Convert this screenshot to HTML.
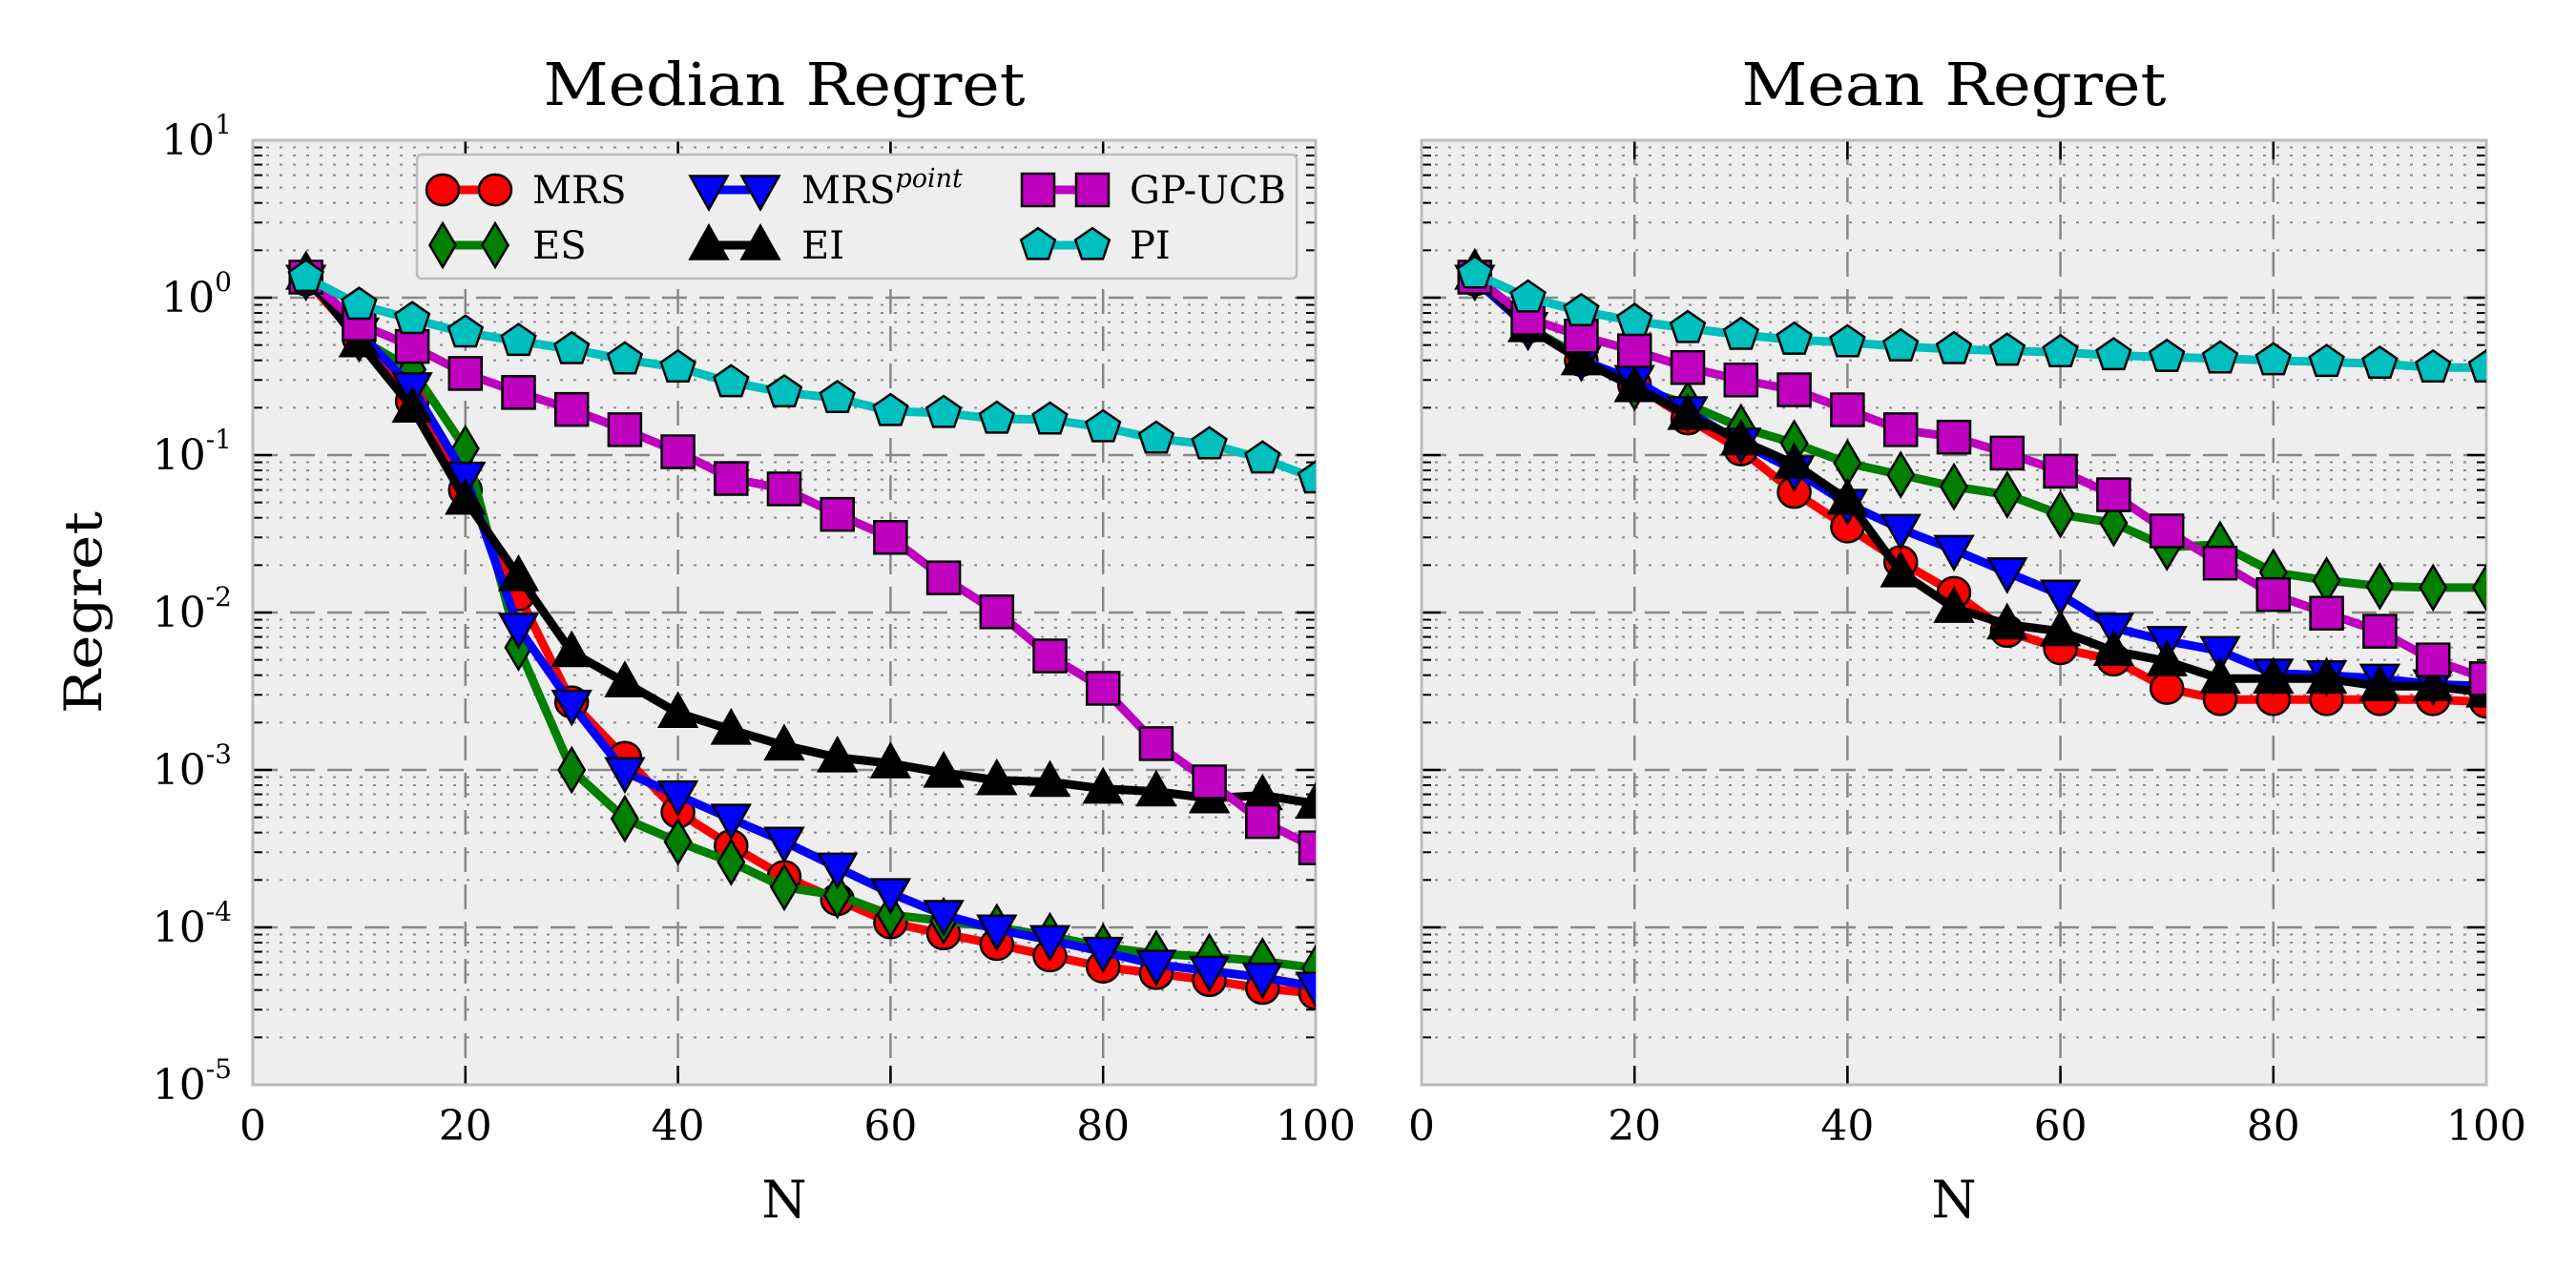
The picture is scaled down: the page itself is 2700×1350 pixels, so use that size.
<!DOCTYPE html>
<html><head><meta charset="utf-8">
<style>
html,body{margin:0;padding:0;background:#fff;}
svg{display:block;}
text{font-family:"DejaVu Serif","Liberation Serif",serif;}
</style></head>
<body>
<svg id="fig" width="2700" height="1350" viewBox="0 0 2700 1350" xmlns="http://www.w3.org/2000/svg"></svg>
<script>
const xValues = [5,10,15,20,25,30,35,40,45,50,55,60,65,70,75,80,85,90,95,100];
const xTicks = [0,20,40,60,80,100];
const yTickExps = [1,0,-1,-2,-3,-4,-5];
const seriesNames = ["MRS","ES","MRSpoint","EI","GP-UCB","PI"];
// Median regret
const medMRS = [1.3,0.55,0.22,0.06,0.013,0.0027,0.0012,5.4e-4,3.3e-4,2.1e-4,1.5e-4,1.07e-4,9.1e-5,7.8e-5,6.6e-5,5.6e-5,5.1e-5,4.6e-5,4.1e-5,3.8e-5];
const medES = [1.4,0.55,0.35,0.11,0.006,0.001,4.9e-4,3.5e-4,2.6e-4,1.8e-4,1.6e-4,1.2e-4,1.1e-4,1.0e-4,8.8e-5,7.5e-5,6.8e-5,6.5e-5,6.1e-5,5.5e-5];
const medMRSpoint = [1.3,0.6,0.27,0.073,0.008,0.0026,9.7e-4,6.9e-4,4.9e-4,3.5e-4,2.4e-4,1.65e-4,1.2e-4,9.7e-5,8.3e-5,7e-5,5.8e-5,5.3e-5,4.8e-5,4.2e-5];
const medEI = [1.4,0.52,0.2,0.052,0.017,0.0056,0.0036,0.0023,0.0018,0.00143,0.0012,0.0011,0.00096,8.6e-4,8.4e-4,7.6e-4,7.3e-4,6.6e-4,6.9e-4,6.1e-4];
const medGPUCB = [1.35,0.68,0.49,0.33,0.25,0.195,0.145,0.105,0.071,0.061,0.042,0.03,0.0166,0.0101,0.0053,0.0033,0.00147,8.4e-4,4.7e-4,3.2e-4];
const medPI = [1.35,0.9,0.73,0.6,0.53,0.47,0.405,0.36,0.29,0.25,0.23,0.19,0.185,0.17,0.168,0.15,0.127,0.117,0.095,0.071];
// Mean regret
const meanMRS = [1.3,0.65,0.4,0.28,0.17,0.108,0.058,0.035,0.021,0.0134,0.0076,0.0059,0.005,0.0033,0.0028,0.0028,0.0028,0.0028,0.0028,0.0027];
const meanES = [1.45,0.65,0.42,0.27,0.21,0.15,0.119,0.089,0.075,0.063,0.056,0.042,0.037,0.026,0.027,0.018,0.016,0.0147,0.0144,0.0144];
const meanMRSpoint = [1.3,0.65,0.4,0.3,0.19,0.12,0.08,0.049,0.034,0.025,0.018,0.013,0.008,0.0066,0.0057,0.0041,0.004,0.0038,0.0035,0.0034];
const meanEI = [1.4,0.65,0.4,0.27,0.18,0.124,0.088,0.052,0.018,0.0107,0.0084,0.0076,0.0057,0.0049,0.0038,0.0038,0.0038,0.0034,0.0034,0.0031];
const meanGPUCB = [1.35,0.74,0.57,0.46,0.36,0.30,0.26,0.194,0.145,0.13,0.103,0.079,0.056,0.033,0.0206,0.013,0.0099,0.0076,0.005,0.0038];
const meanPI = [1.42,1.0,0.82,0.71,0.64,0.58,0.54,0.52,0.49,0.47,0.46,0.45,0.43,0.42,0.41,0.40,0.39,0.38,0.36,0.36];

const NS="http://www.w3.org/2000/svg";
const svg=document.getElementById('fig');
function mk(tag,attrs,parent){const e=document.createElementNS(NS,tag);for(const k in attrs)e.setAttribute(k,attrs[k]);(parent||svg).appendChild(e);return e;}

const styles={
 "MRS":{color:"#ff0000",marker:"circle"},
 "ES":{color:"#007f00",marker:"diamond"},
 "MRSpoint":{color:"#0000ff",marker:"tridown"},
 "EI":{color:"#000000",marker:"triup"},
 "GP-UCB":{color:"#bf00bf",marker:"square"},
 "PI":{color:"#00bfbf",marker:"pentagon"}
};
function markerShape(g,type,cx,cy,fill){
  const s=17;let e;
  if(type==="circle") e=mk('ellipse',{cx:cx,cy:cy,rx:s,ry:s*0.95},g);
  else if(type==="square") e=mk('rect',{x:cx-s,y:cy-s,width:2*s,height:2*s},g);
  else if(type==="diamond") e=mk('polygon',{points:`${cx},${cy-s*1.35} ${cx+s*0.8},${cy} ${cx},${cy+s*1.35} ${cx-s*0.8},${cy}`},g);
  else if(type==="triup") e=mk('polygon',{points:`${cx},${cy-s*1.2} ${cx+s*1.15},${cy+s*0.85} ${cx-s*1.15},${cy+s*0.85}`},g);
  else if(type==="tridown") e=mk('polygon',{points:`${cx},${cy+s*1.2} ${cx+s*1.15},${cy-s*0.85} ${cx-s*1.15},${cy-s*0.85}`},g);
  else { let p=[];for(let i=0;i<5;i++){const a=-Math.PI/2+i*2*Math.PI/5;p.push((cx+s*1.1*Math.cos(a)).toFixed(1)+','+(cy+s*1.05*Math.sin(a)).toFixed(1));} e=mk('polygon',{points:p.join(' ')},g);}
  e.setAttribute('fill',fill);e.setAttribute('stroke','#000');e.setAttribute('stroke-width','2.5');
  return e;
}

function drawPanel(px0,px1,title,titleW,data,showY,pname){
  const py0=147,py1=1137;
  const xs=v=>px0+(v/100)*(px1-px0);
  const ys=v=>py0+(1-Math.log10(v))/6*(py1-py0);
  const g=mk('g',{});
  
  
  mk('rect',{x:px0,y:py0,width:px1-px0,height:py1-py0,fill:'#eeeeee'},g);
  for(let e=-5;e<1;e++){for(let m=2;m<=9;m++){const y=ys(m*Math.pow(10,e));
    mk('line',{x1:px0,x2:px1,y1:y,y2:y,stroke:'#8a8a8a','stroke-width':2,'stroke-dasharray':'3,11'},g);
    mk('line',{x1:px0,x2:px0+10,y1:y,y2:y,stroke:'#000','stroke-width':2},g);
    mk('line',{x1:px1-10,x2:px1,y1:y,y2:y,stroke:'#000','stroke-width':2},g);}}
  yTickExps.forEach(e=>{const y=ys(Math.pow(10,e));
    const gl=mk('line',{x1:px0,x2:px1,y1:y,y2:y,stroke:'#888','stroke-width':2.5,'stroke-dasharray':'26,13'},g);
    
    
    mk('line',{x1:px0,x2:px0+20,y1:y,y2:y,stroke:'#000','stroke-width':2.5},g);
    mk('line',{x1:px1-20,x2:px1,y1:y,y2:y,stroke:'#000','stroke-width':2.5},g);
    if(showY){const t=mk('text',{x:px0-22,y:y+15,'font-size':44,'text-anchor':'end',fill:'#000'},g);
      
      
      t.textContent='10';const ts=mk('tspan',{dy:-22,'font-size':28},t);ts.textContent=String(e);}
  });
  xTicks.forEach(v=>{const x=xs(v);
    if(v>0&&v<100){const gl=mk('line',{x1:x,x2:x,y1:py0,y2:py1,stroke:'#888','stroke-width':2.5,'stroke-dasharray':'26,13'},g);
      
      }
    mk('line',{x1:x,x2:x,y1:py1-20,y2:py1,stroke:'#000','stroke-width':2.5},g);
    mk('line',{x1:x,x2:x,y1:py0,y2:py0+20,stroke:'#000','stroke-width':2.5},g);
    const t=mk('text',{x:x,y:py1+58,'font-size':44,'text-anchor':'middle',fill:'#000'},g);
    
    
    t.textContent=String(v);
  });
  mk('rect',{x:px0,y:py0,width:px1-px0,height:py1-py0,fill:'none',stroke:'#bcbcbc','stroke-width':3},g);
  const clip='clip-'+pname;
  const cp=mk('clipPath',{id:clip},g);mk('rect',{x:px0,y:py0-30,width:px1-px0,height:py1-py0+60},cp);
  const sg=mk('g',{'clip-path':`url(#${clip})`},g);
  seriesNames.forEach((name,i)=>{const vals=data[i];const st=styles[name];
    const sgi=mk('g',{},sg);
    
    
    const pts=vals.map((v,j)=>xs(xValues[j]).toFixed(1)+','+ys(v).toFixed(1)).join(' ');
    mk('polyline',{points:pts,fill:'none',stroke:st.color,'stroke-width':9,'stroke-linejoin':'round'},sgi);
    vals.forEach((v,j)=>{const m=markerShape(sgi,st.marker,xs(xValues[j]),ys(v),st.color);
      
      });
  });
  const tt=mk('text',{x:(px0+px1)/2,y:110,'font-size':62,'text-anchor':'middle',textLength:titleW,lengthAdjust:'spacingAndGlyphs',fill:'#000'});
  
  
  tt.textContent=title;
  const xl=mk('text',{x:(px0+px1)/2,y:1276,'font-size':54,'text-anchor':'middle',fill:'#000'});
  
  
  xl.textContent='N';
}
drawPanel(265,1379,'Median Regret',505,[medMRS,medES,medMRSpoint,medEI,medGPUCB,medPI],true,'median');
drawPanel(1490,2606,'Mean Regret',445,[meanMRS,meanES,meanMRSpoint,meanEI,meanGPUCB,meanPI],false,'mean');

const yl=mk('text',{x:0,y:0,'font-size':54,'text-anchor':'middle',transform:'translate(106,642) rotate(-90)',textLength:212,lengthAdjust:'spacingAndGlyphs',fill:'#000'});


yl.textContent='Regret';

const lg=mk('g',{});


mk('rect',{x:437,y:162,width:922,height:130,rx:5,fill:'#eeeeee',stroke:'#bcbcbc','stroke-width':2.5},lg);
const legCols=[[464,519,558],[743,797,840],[1088,1145,1184]];
const legRows=[199,257];
const legOrder=[["MRS",0,0],["ES",0,1],["MRSpoint",1,0],["EI",1,1],["GP-UCB",2,0],["PI",2,1]];
legOrder.forEach(([name,c,r])=>{const st=styles[name];const [a,b,tx]=legCols[c];const y=legRows[r];
  const eg=mk('g',{},lg);
  
  
  mk('line',{x1:a,x2:b,y1:y,y2:y,stroke:st.color,'stroke-width':9},eg);
  markerShape(eg,st.marker,a,y,st.color);markerShape(eg,st.marker,b,y,st.color);
  const t=mk('text',{x:tx,y:y+14,'font-size':40,fill:'#000'},eg);
  if(name==="MRSpoint"){t.textContent='MRS';const s=mk('tspan',{dy:-17,'font-size':27,'font-style':'italic'},t);s.textContent='point';}
  else t.textContent=name;
});
</script>
</body></html>
